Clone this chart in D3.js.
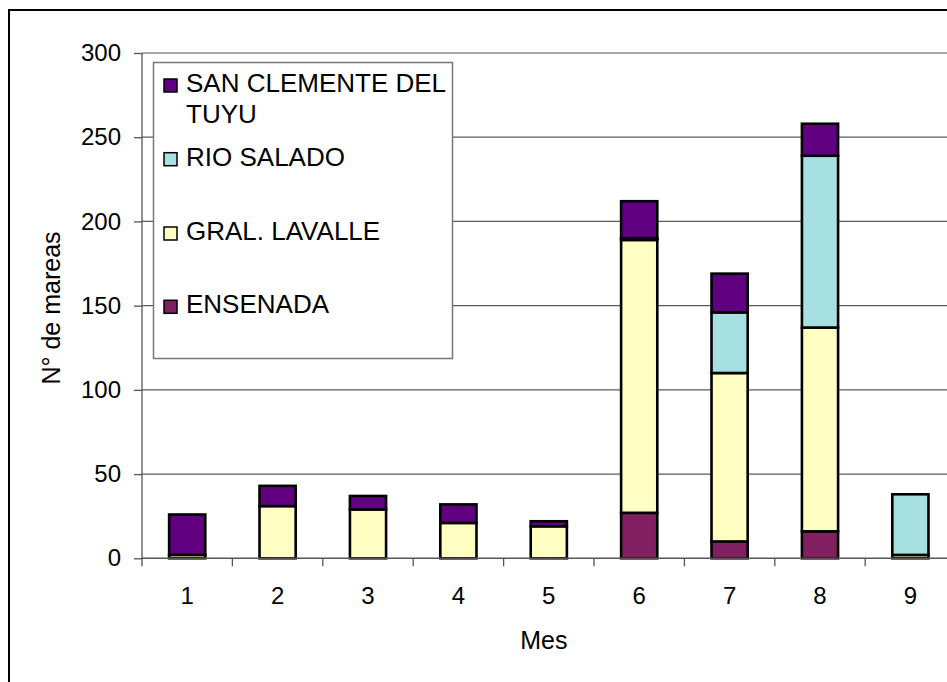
<!DOCTYPE html>
<html>
<head>
<meta charset="utf-8">
<script src="https://cdn.jsdelivr.net/npm/d3@7"></script>
<style>
  body { margin: 0; background: #fff; }
  text { font-family: "Liberation Sans", Arial, sans-serif; fill: #000; }
</style>
</head>
<body>
<div id="chart"></div>
<script>
// data
var months = [1, 2, 3, 4, 5, 6, 7, 8, 9];
var ensenada    = [0, 0, 0, 0, 0, 27, 10, 16, 0];
var lavalle     = [2, 31, 29, 21, 19, 162, 100, 121, 2];
var rioSalado   = [0, 0, 0, 0, 0, 1, 36, 102, 36];
var sanClemente = [24, 12, 8, 11, 3, 22, 23, 19, 0];
var seriesNames = ["ENSENADA", "GRAL. LAVALLE", "RIO SALADO", "SAN CLEMENTE DEL TUYU"];
var yTicks = [0, 50, 100, 150, 200, 250, 300];

var colors = {
  "ENSENADA": "#821f60",
  "GRAL. LAVALLE": "#ffffc4",
  "RIO SALADO": "#a6e0e0",
  "SAN CLEMENTE DEL TUYU": "#600080"
};

var width = 947, height = 682;
var margin = {left: 142, top: 53};
var plotW = 9 * 90.4;
var plotBottom = 558.3;

var svg = d3.select("#chart").append("svg")
    .attr("width", width)
    .attr("height", height);

// outer chart frame (cropped on right/bottom like the picture)
svg.append("rect")
    .attr("x", 9).attr("y", 10)
    .attr("width", 1000).attr("height", 700)
    .attr("fill", "#fff")
    .attr("stroke", "#000")
    .attr("stroke-width", 2);

var x = d3.scaleBand()
    .domain(months)
    .range([margin.left, margin.left + plotW])
    .paddingInner(0.6)
    .paddingOuter(0.3);

var y = d3.scaleLinear()
    .domain([0, 300])
    .range([plotBottom, margin.top]);

// gridlines
svg.append("g")
    .selectAll("line")
    .data(yTicks.filter(function(d) { return d > 0; }))
    .enter().append("line")
    .attr("x1", margin.left).attr("x2", margin.left + plotW)
    .attr("y1", function(d) { return y(d); })
    .attr("y2", function(d) { return y(d); })
    .attr("stroke", function(d) { return d == 300 ? "#8a8a8a" : "#5a5a5a"; })
    .attr("stroke-width", function(d) { return d == 300 ? 1.5 : 1.2; });

// stacked data
var rows = months.map(function(m, i) {
  return {
    month: m,
    "ENSENADA": ensenada[i],
    "GRAL. LAVALLE": lavalle[i],
    "RIO SALADO": rioSalado[i],
    "SAN CLEMENTE DEL TUYU": sanClemente[i]
  };
});
var stack = d3.stack().keys(seriesNames)(rows);

svg.append("g")
    .selectAll("g")
    .data(stack)
    .enter().append("g")
    .attr("fill", function(s) { return colors[s.key]; })
    .selectAll("rect")
    .data(function(s) { return s.filter(function(d) { return d[1] - d[0] > 0; }); })
    .enter().append("rect")
    .attr("x", function(d) { return x(d.data.month); })
    .attr("width", x.bandwidth())
    .attr("y", function(d) { return y(d[1]); })
    .attr("height", function(d) { return y(d[0]) - y(d[1]); })
    .attr("stroke", "#000")
    .attr("stroke-width", 2.6);

// y axis
var yAxis = svg.append("g")
    .attr("transform", "translate(" + margin.left + ",0)")
    .call(d3.axisLeft(y).tickValues(yTicks).tickSize(8).tickPadding(13));
yAxis.select(".domain").remove();
yAxis.selectAll(".tick line").attr("stroke", "#555").attr("stroke-width", 1.3);
yAxis.selectAll("text").attr("font-size", 24).attr("fill", "#000");
svg.append("line")
    .attr("x1", margin.left).attr("x2", margin.left)
    .attr("y1", margin.top).attr("y2", plotBottom + 8)
    .attr("stroke", "#555").attr("stroke-width", 1.3);

// x axis
svg.append("line")
    .attr("x1", margin.left).attr("x2", margin.left + plotW)
    .attr("y1", plotBottom).attr("y2", plotBottom)
    .attr("stroke", "#555").attr("stroke-width", 1.5);

var boundaries = months.map(function(m) {
  return x(m) + x.bandwidth() / 2 + x.step() / 2;
});
svg.append("g")
    .selectAll("line")
    .data(boundaries)
    .enter().append("line")
    .attr("x1", function(d) { return d; }).attr("x2", function(d) { return d; })
    .attr("y1", plotBottom).attr("y2", plotBottom + 8)
    .attr("stroke", "#555").attr("stroke-width", 1.3);

svg.append("g")
    .selectAll("text")
    .data(months)
    .enter().append("text")
    .attr("x", function(m) { return x(m) + x.bandwidth() / 2; })
    .attr("y", 604)
    .attr("text-anchor", "middle")
    .attr("font-size", 24)
    .text(function(m) { return m; });

// axis titles
svg.append("text")
    .attr("x", margin.left + plotW / 2 - 5)
    .attr("y", 649)
    .attr("text-anchor", "middle")
    .attr("font-size", 25)
    .text("Mes");

svg.append("text")
    .attr("transform", "translate(60,308) rotate(-90)")
    .attr("text-anchor", "middle")
    .attr("font-size", 25)
    .text("N° de mareas");

// legend
var legend = svg.append("g");
legend.append("rect")
    .attr("x", 153.5).attr("y", 62.5)
    .attr("width", 299).attr("height", 296)
    .attr("fill", "#fff")
    .attr("stroke", "#777")
    .attr("stroke-width", 1.5);

var legendItems = [
  {key: "SAN CLEMENTE DEL TUYU", lines: ["SAN CLEMENTE DEL", "TUYU"], y: 92},
  {key: "RIO SALADO", lines: ["RIO SALADO"], y: 165.7},
  {key: "GRAL. LAVALLE", lines: ["GRAL. LAVALLE"], y: 240},
  {key: "ENSENADA", lines: ["ENSENADA"], y: 313.3}
];

var li = legend.selectAll(".item")
    .data(legendItems)
    .enter().append("g")
    .attr("class", "item");

li.append("rect")
    .attr("x", 164).attr("y", function(d) { return d.y - 13; })
    .attr("width", 13).attr("height", 13)
    .attr("fill", function(d) { return colors[d.key]; })
    .attr("stroke", "#000")
    .attr("stroke-width", 1.5);

li.append("text")
    .attr("x", 186)
    .attr("y", function(d) { return d.y; })
    .attr("font-size", 26)
    .selectAll("tspan")
    .data(function(d) { return d.lines; })
    .enter().append("tspan")
    .attr("x", 186)
    .attr("dy", function(d, i) { return i == 0 ? 0 : 31.3; })
    .text(function(d) { return d; });
</script>
</body>
</html>
